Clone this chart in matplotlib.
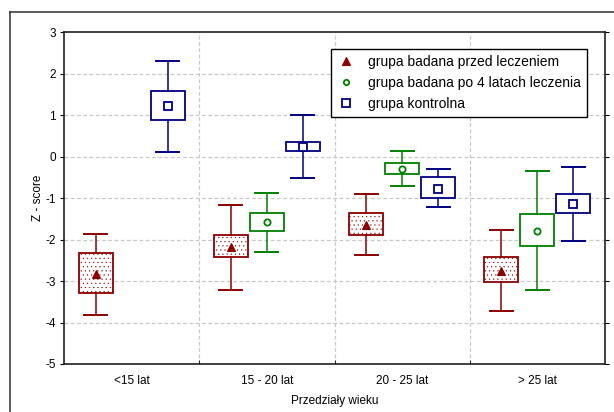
import matplotlib
matplotlib.use("Agg")
import matplotlib.pyplot as plt
from matplotlib.lines import Line2D

plt.rcParams['font.family'] = ['Liberation Sans', 'DejaVu Sans']
plt.rcParams['hatch.linewidth'] = 0.3

categories = ["<15 lat", "15 - 20 lat", "20 - 25 lat", "> 25 lat"]
series_names = ["grupa badana przed leczeniem",
                "grupa badana po 4 latach leczenia",
                "grupa kontrolna"]
# per series: whisker low, box low, mean, box high, whisker high (None = missing)
red_low   = [-3.81, -3.21, -2.37, -3.72]
red_q1    = [-3.28, -2.41, -1.88, -3.02]
red_mean  = [-2.84, -2.18, -1.66, -2.76]
red_q3    = [-2.32, -1.88, -1.35, -2.42]
red_high  = [-1.86, -1.18, -0.91, -1.78]

green_low  = [None, -2.30, -0.70, -3.22]
green_q1   = [None, -1.79, -0.43, -2.16]
green_mean = [None, -1.59, -0.30, -1.80]
green_q3   = [None, -1.35, -0.15, -1.38]
green_high = [None, -0.88, 0.13, -0.36]

blue_low  = [0.12, -0.53, -1.22, -2.03]
blue_q1   = [0.87, 0.14, -1.00, -1.37]
blue_mean = [1.21, 0.23, -0.78, -1.15]
blue_q3   = [1.59, 0.36, -0.50, -0.90]
blue_high = [2.31, 1.01, -0.29, -0.25]

yticks = [3, 2, 1, 0, -1, -2, -3, -4, -5]

fig = plt.figure(figsize=(6.14, 4.12), dpi=100)
W, H = 614, 412
ax = fig.add_axes([64 / W, 1 - 364 / H, (605 - 64) / W, (364 - 32) / H])

series = [
    (red_low, red_q1, red_mean, red_q3, red_high, '#8b0000', '^', -0.266, '....', 'full'),
    (green_low, green_q1, green_mean, green_q3, green_high, '#008000', 'o', 0.0, None, 'none'),
    (blue_low, blue_q1, blue_mean, blue_q3, blue_high, '#000080', 's', 0.266, None, 'none'),
]

handles = []
for (lo, q1, mn, q3, hi, col, mk, off, hatch, fill), name in zip(series, series_names):
    stats = []
    pos = []
    for i in range(len(categories)):
        if lo[i] is None:
            continue
        stats.append(dict(whislo=lo[i], q1=q1[i], med=mn[i], mean=mn[i],
                          q3=q3[i], whishi=hi[i], fliers=[]))
        pos.append(i + 0.5 + off)
    mprops = dict(marker=mk, markerfacecolor=col if fill == 'full' else 'white',
                  markeredgecolor=col, markersize=6 if mk != 'o' else 4.5,
                  markeredgewidth=1.3 if mk != '^' else 0.8)
    bp = ax.bxp(stats, positions=pos, widths=0.25, capwidths=0.17,
                showmeans=True, showfliers=False, patch_artist=True,
                boxprops=dict(facecolor='white', edgecolor=col, linewidth=1.3,
                              hatch=hatch),
                whiskerprops=dict(color=col, linewidth=1.1),
                capprops=dict(color=col, linewidth=1.4),
                medianprops=dict(linewidth=0),
                meanprops=mprops,
                zorder=3)
    lprops = dict(mprops)
    lprops['markersize'] = lprops['markersize'] * 0.85
    handles.append(Line2D([], [], linestyle='none', color=col, **lprops))

ax.set_xlim(0, len(categories))
ax.set_ylim(-5, 3)
ax.set_yticks(yticks)
ax.set_yticklabels([str(t) for t in yticks], fontsize=8.5)
ax.set_xticks([i + 0.5 for i in range(len(categories))])
ax.set_xticklabels(categories, fontsize=8.5)
ax.tick_params(axis='x', length=0, pad=8)
ax.set_xticks([1, 2, 3], minor=True)
ax.tick_params(axis='x', which='minor', length=3, direction='in')
ax.tick_params(axis='y', length=3, direction='out', pad=3, right=True)
ax.grid(False)
for y in yticks[1:-1]:
    ax.axhline(y, color='#c8c8c8', linestyle=(0, (3, 2)), linewidth=0.9, zorder=0)
for x in [1, 2, 3]:
    ax.axvline(x, color='#c8c8c8', linestyle=(0, (3, 2)), linewidth=0.9, zorder=0)
for s in ax.spines.values():
    s.set_color('#202020')
    s.set_linewidth(1.2)

ax.set_xlabel("Przedziały wieku", fontsize=8.5, labelpad=6)
ax.set_ylabel("Z - score", fontsize=8.5, labelpad=1)

leg = ax.legend(handles, series_names, loc='upper right',
                bbox_to_anchor=((587 - 64) / (605 - 64), 1 - (49 - 32) / (364 - 32)),
                fontsize=10, frameon=True, fancybox=False, framealpha=1,
                borderpad=0.45, handlelength=1.3, handletextpad=0.9,
                labelspacing=0.5, borderaxespad=0)
leg.get_frame().set_edgecolor('black')
leg.get_frame().set_linewidth(1.0)

# outer frame (open to the right and bottom)
fig.add_artist(Line2D([10 / W, 10 / W], [0, 1 - 12 / H], transform=fig.transFigure,
                      color='#404040', linewidth=1.2))
fig.add_artist(Line2D([10 / W, 1], [1 - 12 / H, 1 - 12 / H], transform=fig.transFigure,
                      color='#404040', linewidth=1.2))

fig.savefig("out.png", dpi=100)
